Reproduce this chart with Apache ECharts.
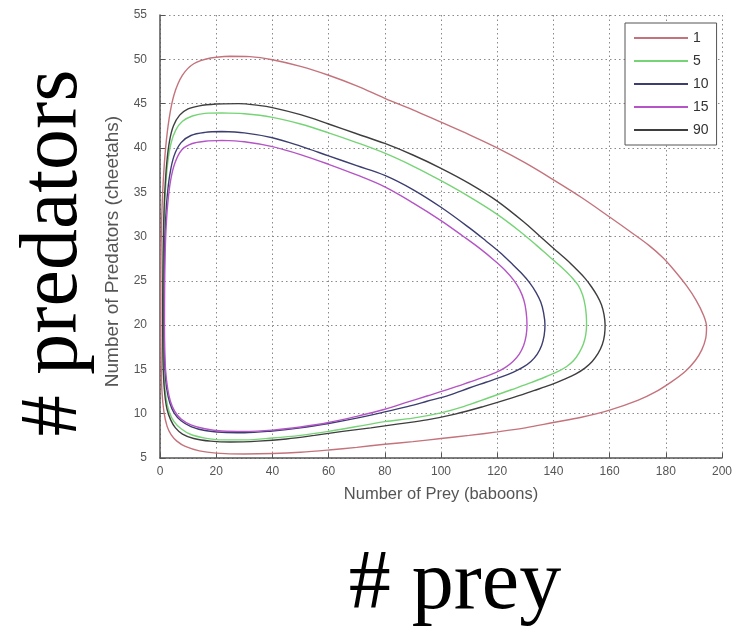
<!DOCTYPE html>
<html>
<head>
<meta charset="utf-8">
<script src="https://cdn.jsdelivr.net/npm/echarts@6/dist/echarts.min.js"></script>
<style>
  html, body { margin: 0; padding: 0; background: #ffffff; }
  #chart { width: 745px; height: 634px; }
</style>
</head>
<body>
<div id="chart"></div>
<script>
// Predator-prey phase orbits: [prey (baboons), predators (cheetahs)]
const orbitNames = ['1', '5', '10', '15', '90'];

const orbit1 = [
  [25, 50.35], [32, 50.3], [40, 49.95], [50, 49.2], [60, 48.2], [70, 47.0], [80, 45.6],
  [90, 44.3], [100, 42.9], [110, 41.5], [120, 40.0], [130, 38.3], [140, 36.4], [150, 34.4],
  [160, 32.2], [168, 30.4], [174, 29.0], [179, 27.6], [183.5, 26.0], [187.5, 24.4],
  [190.8, 22.8], [193.3, 21.2], [194.5, 19.8], [194.2, 18.5], [192.8, 17.2], [190.5, 16.0],
  [187, 14.8], [182, 13.6], [176, 12.4], [170, 11.5], [160, 10.4], [150, 9.6], [140, 9.0],
  [130, 8.4], [120, 7.95], [110, 7.55], [100, 7.2], [90, 6.85], [80, 6.55], [70, 6.2],
  [60, 5.9], [50, 5.65], [40, 5.5], [30, 5.45], [20, 5.55], [14, 5.8], [9, 6.3], [6, 6.9],
  [4, 7.6], [2.5, 8.6], [1.4, 10.2], [0.7, 12.5], [0.4, 16], [0.3, 20], [0.3, 25],
  [0.4, 29], [0.7, 33], [1.2, 36.5], [2, 40], [3.2, 43.2], [5, 46], [8, 48.2], [12, 49.5],
  [18, 50.15], [25, 50.35]
];

const orbit5 = [
  [22, 43.95], [30, 43.85], [40, 43.45], [50, 42.7], [60, 41.7], [70, 40.6], [80, 39.4],
  [90, 37.95], [100, 36.3], [110, 34.5], [120, 32.5], [128, 30.6], [134, 29.0], [139, 27.6],
  [143, 26.5], [146.2, 25.5], [148.8, 24.5], [150.4, 23.4], [151.3, 22.2], [151.7, 21.1],
  [151.8, 20], [151.5, 18.9], [150.7, 17.9], [149.2, 16.9], [147.2, 16.0], [144.6, 15.3],
  [141.5, 14.75], [137.5, 14.2], [132, 13.5], [125, 12.7], [117, 11.8], [108, 10.8],
  [100, 10.1], [90, 9.5], [80, 9.1], [70, 8.55], [60, 8.0], [50, 7.55], [40, 7.25],
  [30, 7.05], [22, 7.05], [16, 7.25], [11, 7.65], [7.5, 8.3], [5, 9.1], [3.3, 10.2],
  [2.2, 11.7], [1.5, 13.8], [1.2, 16.5], [1.1, 20], [1.15, 24], [1.25, 28], [1.45, 31.5],
  [1.9, 35], [2.7, 38.2], [3.9, 40.5], [5.6, 42.0], [8, 43.0], [11.5, 43.6], [16, 43.9],
  [22, 43.95]
];

const orbit10 = [
  [22, 41.85], [30, 41.7], [40, 41.15], [50, 40.2], [60, 39.1], [70, 38.0], [80, 36.9],
  [90, 35.3], [100, 33.3], [110, 31.0], [116, 29.5], [121, 28.2], [125, 27.0], [128.5, 25.9],
  [131.5, 24.8], [133.8, 23.7], [135.5, 22.6], [136.5, 21.4], [137, 20], [136.7, 18.8],
  [135.8, 17.7], [134.2, 16.7], [132, 15.9], [129.2, 15.25], [125.8, 14.7], [121.5, 14.15],
  [116, 13.55], [110, 12.9], [103, 12.1], [95, 11.4], [88, 10.8], [80, 10.2], [70, 9.5],
  [60, 8.9], [50, 8.4], [40, 8.05], [30, 7.85], [22, 7.9], [16, 8.1], [11, 8.55], [7.5, 9.2],
  [5, 10.1], [3.5, 11.2], [2.4, 12.8], [1.8, 14.8], [1.5, 17.3], [1.4, 20], [1.45, 24],
  [1.6, 28], [1.9, 31.2], [2.5, 34.3], [3.5, 37], [5, 39.1], [7.5, 40.6], [11, 41.4],
  [16, 41.75], [22, 41.85]
];

const orbit15 = [
  [22, 40.85], [30, 40.7], [40, 40.15], [50, 39.25], [60, 38.15], [70, 36.95], [80, 35.6],
  [90, 33.8], [100, 31.8], [108, 30.0], [114, 28.6], [119, 27.3], [122.8, 26.2], [125.8, 25.1],
  [128, 24.0], [129.5, 22.8], [130.3, 21.5], [130.6, 20], [130.3, 18.8], [129.4, 17.7],
  [127.8, 16.7], [125.6, 15.9], [122.8, 15.2], [119.2, 14.6], [115, 14.1], [110, 13.55],
  [103, 12.8], [95, 12.0], [88, 11.3], [80, 10.5], [70, 9.7], [60, 9.0], [50, 8.5],
  [40, 8.15], [30, 8.0], [22, 8.05], [16, 8.3], [11, 8.75], [7.5, 9.4], [5.2, 10.3],
  [3.7, 11.4], [2.7, 12.9], [2.0, 14.9], [1.7, 17.3], [1.6, 20], [1.65, 24], [1.8, 27.5],
  [2.1, 30.5], [2.7, 33.5], [3.7, 36.2], [5.3, 38.3], [7.8, 39.8], [11.5, 40.5],
  [16, 40.75], [22, 40.85]
];

const orbit90 = [
  [20, 44.95], [28, 45], [35, 44.8], [40, 44.55], [50, 43.75], [60, 42.7], [70, 41.6],
  [80, 40.5], [90, 39.2], [100, 37.7], [110, 36.0], [120, 34.0], [130, 31.5], [136, 29.8],
  [141, 28.4], [145, 27.3], [148.2, 26.3], [151.2, 25.3], [153.6, 24.3], [155.6, 23.3],
  [157.1, 22.3], [158, 21.2], [158.4, 20], [158.2, 18.9], [157.4, 17.8], [155.9, 16.8],
  [153.8, 15.9], [151.2, 15.15], [148, 14.5], [144, 13.9], [139, 13.25], [133, 12.6],
  [125, 11.75], [115, 10.8], [105, 9.95], [95, 9.3], [85, 8.85], [75, 8.4], [65, 8.0],
  [55, 7.55], [45, 7.15], [35, 6.9], [25, 6.8], [18, 6.9], [12, 7.2], [8, 7.7], [5.5, 8.4],
  [3.8, 9.3], [2.5, 10.5], [1.7, 12.2], [1.2, 14.5], [1, 17.5], [0.95, 21], [1, 25],
  [1.1, 28], [1.3, 31.5], [1.7, 35], [2.4, 38.3], [3.4, 40.8], [4.8, 42.5], [7, 43.7],
  [10, 44.4], [14, 44.75], [20, 44.95]
];

const orbits = [orbit1, orbit5, orbit10, orbit15, orbit90];
const orbitColors = ['#c4737c', '#76d476', '#3c3e70', '#b454c6', '#3e3e3e'];

const chart = echarts.init(document.getElementById('chart'), null, { renderer: 'canvas' });

const sans = 'Liberation Sans, Arial, sans-serif';
const axisText = { color: '#555', fontFamily: sans, fontSize: 12 };
const gridLine = { show: true, lineStyle: { color: '#8a8a8a', width: 1, type: [1.5, 3] } };

chart.setOption({
  backgroundColor: '#ffffff',
  animation: false,
  grid: { left: 160, right: 23, top: 15, bottom: 176, containLabel: false },
  xAxis: {
    type: 'value', min: 0, max: 200, interval: 20,
    name: 'Number of Prey (baboons)', nameLocation: 'middle', nameGap: 28,
    nameTextStyle: { color: '#555', fontFamily: sans, fontSize: 16.5 },
    axisLine: { show: true, onZero: false, lineStyle: { color: '#555', width: 1.5 } },
    axisTick: { show: true, inside: true, length: 5, lineStyle: { color: '#555' } },
    axisLabel: Object.assign({ margin: 8 }, axisText),
    splitLine: gridLine
  },
  yAxis: {
    type: 'value', min: 5, max: 55, interval: 5,
    name: 'Number of Predators (cheetahs)', nameLocation: 'middle', nameGap: 30,
    nameTextStyle: { color: '#555', fontFamily: sans, fontSize: 19, padding: [0, 30, 0, 0] },
    axisLine: { show: true, onZero: false, lineStyle: { color: '#555', width: 1.5 } },
    axisTick: { show: true, inside: true, length: 5, lineStyle: { color: '#555' } },
    axisLabel: Object.assign({ margin: 13 }, axisText),
    splitLine: gridLine
  },
  legend: {
    orient: 'vertical', left: 625, top: 23,
    padding: [8, 8, 8, 8], itemGap: 9, itemWidth: 54, itemHeight: 14,
    backgroundColor: '#ffffff', borderColor: '#555', borderWidth: 1,
    itemStyle: { opacity: 0 },
    textStyle: { color: '#333', fontFamily: sans, fontSize: 14 },
    data: orbitNames
  },
  series: orbits.map((pts, i) => ({
    name: orbitNames[i],
    type: 'line',
    data: pts,
    smooth: 0.35,
    symbol: 'none',
    color: orbitColors[i],
    lineStyle: { color: orbitColors[i], width: 1.4 },
    z: 3 + i
  })),
  graphic: [
    {
      type: 'text', x: 54, y: 253, rotation: Math.PI / 2,
      style: {
        text: '# predators', fill: '#000',
        font: '82px "Liberation Serif", "Times New Roman", serif',
        textAlign: 'center', textVerticalAlign: 'middle'
      }
    },
    {
      type: 'text', x: 455, y: 586,
      style: {
        text: '# prey', fill: '#000',
        font: '84px "Liberation Serif", "Times New Roman", serif',
        textAlign: 'center', textVerticalAlign: 'middle'
      }
    }
  ]
});
</script>
</body>
</html>
